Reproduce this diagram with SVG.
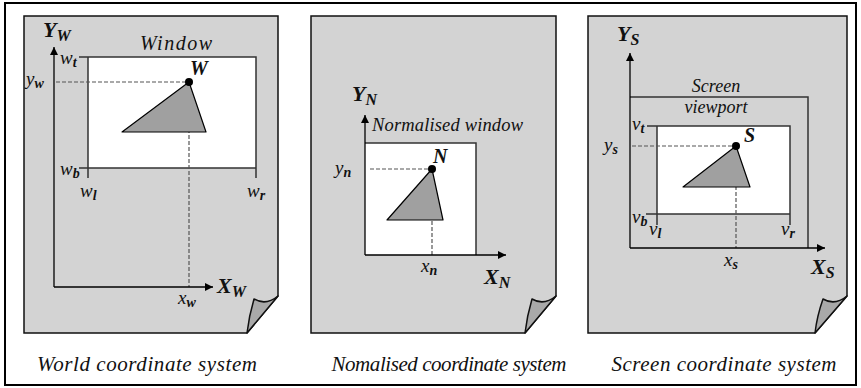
<svg xmlns="http://www.w3.org/2000/svg" width="861" height="388" viewBox="0 0 861 388">
<defs>
<style>
.page{fill:#d3d3d3;stroke:#111;stroke-width:1.5}
.curl{fill:#a9a9a9;stroke:#111;stroke-width:1.5;stroke-linejoin:round}
.axis{fill:none;stroke:#000;stroke-width:1.3}
.win{fill:#fff;stroke:none}
.edge{fill:none;stroke:#333;stroke-width:1.5}
.dash{fill:none;stroke:#555;stroke-width:1.2;stroke-dasharray:4 2}
.tri{fill:#a0a0a0;stroke:#000;stroke-width:1.2;stroke-linejoin:round}
.dot{fill:#000}
text{font-family:'Liberation Serif','Times New Roman',serif;font-style:italic;fill:#111}
.cap{font-size:21px}
.lbl{font-size:18px}
.big{font-size:20px}
.ax{font-size:22px;font-weight:bold}
.pt{font-size:20px;font-weight:bold}
.var{font-size:19px}
.sub{font-size:14px;font-weight:bold}
.axs{font-size:16px}
</style>
<marker id="ah" viewBox="0 0 10 10" refX="10" refY="5" markerWidth="8" markerHeight="8" markerUnits="userSpaceOnUse" orient="auto"><path d="M0,0 L10,5 L0,10 Z" fill="#000"/></marker>
</defs>
<rect x="5" y="3" width="851" height="382" fill="#fff" stroke="#000" stroke-width="2"/>

<g id="world">
<path class="page" d="M24,16 H278 V296 L247,333 H24 Z"/>
<path class="curl" d="M254,299 Q266,306 278,296 L247,333 Q249,316 254,299 Z"/>
<rect class="win" x="88" y="57" width="168" height="111"/>
<path class="edge" d="M79,57 H256 V178 M88,57 V178 M79,168 H256"/>
<path class="dash" d="M56,82 H189 V287"/>
<path class="tri" d="M189,82 L122,132 L206,132 Z"/>
<circle class="dot" cx="189" cy="82" r="4"/>
<path class="axis" d="M54,287 V47" marker-end="url(#ah)"/>
<path class="axis" d="M54,287 H213" marker-end="url(#ah)"/>
<text class="ax" x="43" y="37">Y<tspan class="axs" dy="4">W</tspan></text>
<text class="ax" x="217" y="293">X<tspan class="axs" dy="4">W</tspan></text>
<text class="big" x="176" y="50" text-anchor="middle" textLength="72" lengthAdjust="spacing">Window</text>
<text class="pt" x="190" y="75">W</text>
<text class="var" x="60" y="64">w<tspan class="sub" dy="3">t</tspan></text>
<text class="var" x="26" y="85">y<tspan class="sub" dy="3">w</tspan></text>
<text class="var" x="60" y="175">w<tspan class="sub" dy="3">b</tspan></text>
<text class="var" x="80" y="197">w<tspan class="sub" dy="3">l</tspan></text>
<text class="var" x="247" y="197">w<tspan class="sub" dy="3">r</tspan></text>
<text class="var" x="178" y="304">x<tspan class="sub" dy="3">w</tspan></text>
<text class="cap" x="147" y="371" text-anchor="middle" textLength="220" lengthAdjust="spacing">World coordinate system</text>
</g>

<g id="normalised">
<path class="page" d="M311,16 H556 V296 L525,333 H311 Z"/>
<path class="curl" d="M532,299 Q544,306 556,296 L525,333 Q527,316 532,299 Z"/>
<rect class="win" x="365" y="143" width="111" height="112"/>
<path class="edge" d="M365,143 H476 V255"/>
<path class="dash" d="M370,169 H432 V255"/>
<path class="tri" d="M432,169 L387,220 L443,220 Z"/>
<circle class="dot" cx="432" cy="169" r="4"/>
<path class="axis" d="M365,255 V115" marker-end="url(#ah)"/>
<path class="axis" d="M365,255 H506" marker-end="url(#ah)"/>
<text class="ax" x="352" y="101">Y<tspan class="axs" dy="4">N</tspan></text>
<text class="ax" x="484" y="284">X<tspan class="axs" dy="4">N</tspan></text>
<text class="lbl" x="372" y="131" style="font-size:18.5px" textLength="151" lengthAdjust="spacing">Normalised window</text>
<text class="pt" x="433" y="163">N</text>
<text class="var" x="335" y="174">y<tspan class="sub" dy="3">n</tspan></text>
<text class="var" x="421" y="272">x<tspan class="sub" dy="3">n</tspan></text>
<text class="cap" x="449" y="371" text-anchor="middle" textLength="235" lengthAdjust="spacing">Nomalised coordinate system</text>
</g>

<g id="screen">
<path class="page" d="M588,16 H847 V296 L815,333 H588 Z"/>
<path class="curl" d="M823,299 Q835,306 847,296 L815,333 Q817,316 823,299 Z"/>
<path class="edge" d="M630,97 H808 V248"/>
<rect class="win" x="657" y="126" width="133" height="88"/>
<path class="edge" d="M647,126 H790 V225 M657,126 V225 M646,214 H790"/>
<path class="dash" d="M632,146 H736 V248"/>
<path class="tri" d="M736,146 L683,187 L750,187 Z"/>
<circle class="dot" cx="736" cy="146" r="4"/>
<path class="axis" d="M630,248 V53" marker-end="url(#ah)"/>
<path class="axis" d="M630,248 H825" marker-end="url(#ah)"/>
<text class="ax" x="617" y="41">Y<tspan class="axs" dy="4">S</tspan></text>
<text class="ax" x="811" y="274">X<tspan class="axs" dy="4">S</tspan></text>
<text class="lbl" x="716" y="92" text-anchor="middle">Screen</text>
<text class="lbl" x="716" y="113" text-anchor="middle">viewport</text>
<text class="pt" x="744" y="142">S</text>
<text class="var" x="632" y="130">v<tspan class="sub" dy="3">t</tspan></text>
<text class="var" x="604" y="151">y<tspan class="sub" dy="3">s</tspan></text>
<text class="var" x="632" y="223">v<tspan class="sub" dy="3">b</tspan></text>
<text class="var" x="649" y="235">v<tspan class="sub" dy="3">l</tspan></text>
<text class="var" x="781" y="235">v<tspan class="sub" dy="3">r</tspan></text>
<text class="var" x="724" y="266">x<tspan class="sub" dy="3">s</tspan></text>
<text class="cap" x="724" y="371" text-anchor="middle" textLength="225" lengthAdjust="spacing">Screen coordinate system</text>
</g>
</svg>
